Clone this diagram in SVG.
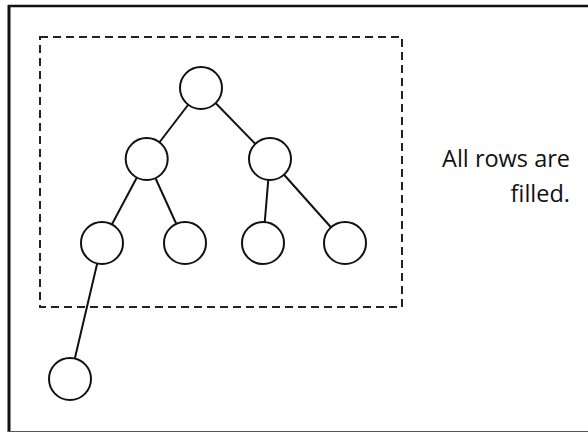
<svg xmlns="http://www.w3.org/2000/svg" width="588" height="433" viewBox="0 0 588 433">
<style>
.n{fill:#fff;stroke:#111;stroke-width:2}
.e{stroke:#111;stroke-width:2;fill:none}
.t{font-family:"Open Sans","Noto Sans",sans-serif;font-size:23.5px;fill:#111}
</style>
<rect width="588" height="433" fill="#fff"/>
<g id="frame">
<line x1="8" y1="6" x2="588" y2="6" stroke="#111" stroke-width="2.5"/>
<line x1="9" y1="5" x2="9" y2="432" stroke="#111" stroke-width="3"/>
<line x1="8" y1="431.5" x2="588" y2="431.5" stroke="#555" stroke-width="1.2"/>
</g>
<g id="region">
<rect x="40" y="37" width="362" height="270" fill="none" stroke="#222" stroke-width="2" stroke-dasharray="8,5"/>
</g>
<g id="connectors">
<line class="e" x1="201" y1="88" x2="146.7" y2="159"/>
<line class="e" x1="201" y1="88" x2="270" y2="159"/>
<line class="e" x1="146.7" y1="159" x2="102" y2="243"/>
<line class="e" x1="146.7" y1="159" x2="185" y2="243"/>
<line class="e" x1="270" y1="159" x2="263" y2="243"/>
<line class="e" x1="270" y1="159" x2="345" y2="243"/>
<line class="e" x1="102" y1="243" x2="70" y2="379"/>
</g>
<g id="n1"><circle class="n" cx="201" cy="88" r="21"/></g>
<g id="n2"><circle class="n" cx="146.7" cy="159" r="21"/></g>
<g id="n3"><circle class="n" cx="270" cy="159" r="21"/></g>
<g id="n4"><circle class="n" cx="102" cy="243" r="21"/></g>
<g id="n5"><circle class="n" cx="185" cy="243" r="21"/></g>
<g id="n6"><circle class="n" cx="263" cy="243" r="21"/></g>
<g id="n7"><circle class="n" cx="345" cy="243" r="21"/></g>
<g id="n8"><circle class="n" cx="70" cy="379" r="21"/></g>
<g id="label">
<text class="t" x="570" y="167" text-anchor="end">All rows are</text>
<text class="t" x="570" y="202" text-anchor="end">filled.</text>
</g>
</svg>
